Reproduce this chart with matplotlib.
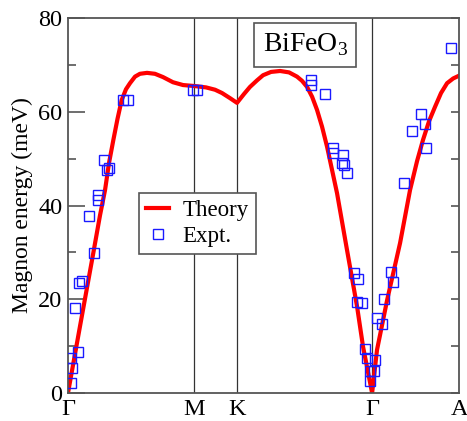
import numpy as np
import matplotlib
matplotlib.use('Agg')
import matplotlib.pyplot as plt
from matplotlib.ticker import MultipleLocator

plt.rcParams['font.family'] = ['Liberation Serif', 'DejaVu Serif']
plt.rcParams['mathtext.fontset'] = 'custom'
plt.rcParams['mathtext.rm'] = 'Liberation Serif'

# high-symmetry points along the path
kpt_labels = ['Γ', 'M', 'K', 'Γ', 'A']
kpt_pos = [0.0, 1.0, 1.341, 2.413, 3.103]

# theory dispersion
theory_k = [0.0, 0.095, 0.201, 0.254, 0.294, 0.325, 0.360, 0.393, 0.426, 0.460,
            0.492, 0.532, 0.571, 0.627, 0.690, 0.754, 0.833, 0.913, 1.0, 1.095,
            1.167, 1.222, 1.286, 1.341,
            1.397, 1.444, 1.500, 1.548, 1.611, 1.683, 1.754, 1.817, 1.857, 1.897,
            1.937, 1.976, 2.016, 2.056, 2.135, 2.214, 2.294, 2.341, 2.413,
            2.452, 2.532, 2.635, 2.714, 2.770, 2.817, 2.865, 2.913, 2.960, 3.008,
            3.056, 3.103]
theory_E = [0.0, 14.2, 29.9, 37.9, 43.3, 49.0, 54.0, 58.5, 62.5, 64.8,
            66.1, 67.5, 68.1, 68.3, 68.1, 67.4, 66.3, 65.7, 65.5, 65.2,
            64.7, 64.0, 62.9, 61.9,
            63.8, 65.3, 66.7, 67.8, 68.5, 68.7, 68.4, 67.5, 66.6, 65.3,
            63.2, 60.4, 56.8, 52.5, 42.6, 30.5, 18.4, 9.9, 0.0,
            9.2, 19.8, 32.0, 43.3, 49.5, 54.0, 58.0, 61.1, 64.0, 66.1,
            67.1, 67.7]

# experimental points
expt_k = [0.024, 0.029, 0.024, 0.082, 0.056, 0.090, 0.109, 0.209, 0.169, 0.236,
          0.240, 0.288, 0.307, 0.325, 0.439, 0.474, 0.990, 1.026,
          1.925, 1.925, 2.040, 2.106, 2.106, 2.185, 2.172, 2.190, 2.216,
          2.272, 2.304, 2.291, 2.331, 2.357, 2.373, 2.397, 2.393,
          2.437, 2.431, 2.450, 2.490, 2.508, 2.561, 2.577, 2.669, 2.733,
          2.802, 2.833, 2.841, 3.040]
expt_E = [2.2, 5.4, 7.4, 8.8, 18.1, 23.5, 23.9, 29.9, 37.8, 41.2,
          42.2, 49.7, 47.6, 48.1, 62.5, 62.5, 64.7, 64.7,
          66.8, 65.7, 63.7, 52.2, 51.1, 50.8, 49.0, 48.6, 46.9,
          25.5, 24.3, 19.5, 19.3, 9.3, 7.4, 4.7, 2.6,
          7.0, 4.7, 15.9, 14.7, 20.0, 25.9, 23.7, 44.9, 56.0,
          59.5, 57.4, 52.2, 73.5]

fig = plt.figure(figsize=(4.67, 4.21), dpi=100)
ax = fig.add_axes([0.1456, 0.0665, 0.8374, 0.8907])

for xp in kpt_pos[1:-1]:
    ax.axvline(xp, color='#333333', lw=0.9, zorder=1)

ax.plot(theory_k, theory_E, color='red', lw=3.0, label='Theory', zorder=2)
ax.plot(expt_k, expt_E, 's', ms=7, mfc='none', mec='#1a1aff', mew=1.0,
        label='Expt.', zorder=3)

ax.set_xlim(kpt_pos[0], kpt_pos[-1])
ax.set_ylim(0, 80)
ax.set_xticks(kpt_pos)
ax.set_xticklabels(kpt_labels)
ax.tick_params(axis='x', length=0, labelsize=17.5, pad=4)
ax.yaxis.set_major_locator(MultipleLocator(20))
ax.yaxis.set_minor_locator(MultipleLocator(10))
ax.tick_params(axis='y', which='major', direction='in', length=12, width=1.2,
               color='#555555', labelsize=17.5, pad=4)
ax.tick_params(axis='y', which='minor', direction='in', length=6, width=1.2,
               color='#555555')
ax.set_ylabel('Magnon energy (meV)', fontsize=17, labelpad=4)
for s in ax.spines.values():
    s.set_color('#555555')
    s.set_linewidth(1.3)

# right-hand ticks, short
ax2 = ax.twinx()
ax2.set_ylim(0, 80)
ax2.yaxis.set_major_locator(MultipleLocator(20))
ax2.yaxis.set_minor_locator(MultipleLocator(10))
ax2.tick_params(axis='y', which='both', direction='in', length=6, width=1.2,
                color='#555555', labelright=False)
for s in ax2.spines.values():
    s.set_visible(False)

leg = ax.legend(loc='upper left', bbox_to_anchor=(0.182, 0.533), borderaxespad=0,
                fontsize=16.5, fancybox=False, framealpha=1, edgecolor='#555555',
                handlelength=1.0, handletextpad=0.6, borderpad=0.3, labelspacing=0.2,
                markerscale=1.0)
leg.get_frame().set_linewidth(1.2)

ax.text(0.607, 0.928, r'BiFeO$_3$', transform=ax.transAxes, fontsize=20,
        ha='center', va='center',
        bbox=dict(boxstyle='square,pad=0.3', fc='white', ec='#555555', lw=1.2))

plt.savefig('out.png', dpi=100)
